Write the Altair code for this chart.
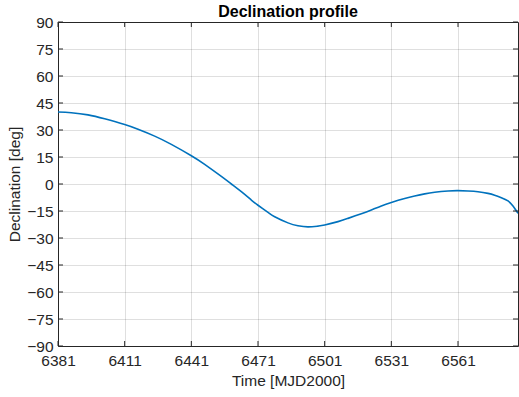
import altair as alt
import pandas as pd

# Declination of the target over time (MJD2000 days vs degrees)
time_mjd = [6381, 6387, 6394.5, 6402, 6411, 6417, 6424.5, 6432, 6441, 6447,
            6454.5, 6459, 6463.5, 6468, 6471, 6475.5, 6478.5, 6484.5, 6489, 6493.5,
            6498, 6501, 6507, 6511.5, 6517.5, 6522, 6526.5, 6531, 6537, 6541.5,
            6546, 6550.5, 6556.5, 6561, 6565.5, 6570, 6574.5, 6577.5, 6580.5, 6583.5,
            6585.75, 6588]
declination = [40.0, 39.6, 38.4, 36.2, 33.0, 30.4, 26.6, 22.0, 15.7, 10.9,
               4.2, 0.0, -4.3, -8.9, -11.8, -15.8, -18.2, -21.6, -23.2, -23.8,
               -23.4, -22.8, -20.9, -19.1, -16.5, -14.4, -12.2, -10.3, -8.1, -6.7,
               -5.5, -4.6, -3.9, -3.7, -3.9, -4.3, -5.2, -6.2, -7.6, -9.4,
               -12.2, -16.3]

x_ticks = [6381, 6411, 6441, 6471, 6501, 6531, 6561]
y_ticks = [-90, -75, -60, -45, -30, -15, 0, 15, 30, 45, 60, 75, 90]

W, H = 460, 324
FONT = "Liberation Sans"
INK = "#262626"
FS = 15.5

df = pd.DataFrame({"t": time_mjd, "dec": declination})
xt = pd.DataFrame({"t": x_ticks})
yt = pd.DataFrame({"dec": y_ticks})

x_scale = alt.Scale(domain=[6381, 6588], nice=False, zero=False)
y_scale = alt.Scale(domain=[-90, 90], nice=False, zero=False)

common = dict(ticks=False, domain=False, grid=True, gridColor=INK, gridOpacity=0.15,
              labelFontSize=FS, titleFontSize=FS, labelFont=FONT, titleFont=FONT,
              labelColor=INK, titleColor=INK, titleFontWeight="normal",
              labelFlush=False, labelOverlap=False, format="d")

x_axis = alt.Axis(values=x_ticks, title="Time [MJD2000]", labelPadding=7,
                  titlePadding=5, **common)
y_axis = alt.Axis(values=y_ticks, title="Declination [deg]", labelPadding=5,
                  titlePadding=4, **common)

X = alt.X("t:Q", scale=x_scale, axis=x_axis)
Y = alt.Y("dec:Q", scale=y_scale, axis=y_axis)

line = alt.Chart(df).mark_line(color="#0072BD", strokeWidth=1.6,
                               interpolate="natural", clip=True).encode(x=X, y=Y)

# Inward tick marks on all four sides of the box
tick_style = dict(color=INK, strokeWidth=1)
xb = alt.Chart(xt).mark_rule(**tick_style).encode(
    x=X, y=alt.value(H), y2=alt.value(H - 5))
xtop = alt.Chart(xt).mark_rule(**tick_style).encode(
    x=X, y=alt.value(0), y2=alt.value(5))
yl = alt.Chart(yt).mark_rule(**tick_style).encode(
    y=Y, x=alt.value(0), x2=alt.value(5))
yr = alt.Chart(yt).mark_rule(**tick_style).encode(
    y=Y, x=alt.value(W), x2=alt.value(W - 5))

chart = alt.layer(line, xb, xtop, yl, yr).properties(
    width=W, height=H,
    title=alt.Title("Declination profile", font=FONT, fontSize=16, fontWeight="bold",
                    color="#000000", anchor="middle", frame="group", offset=-5),
    autosize=alt.AutoSizeParams(type="none"),
    padding={"left": 58, "top": 22, "right": 1, "bottom": 51},
    background="white",
).configure_view(stroke=INK, strokeWidth=1)

chart.save("out.html", embed_options={"renderer": "svg", "actions": False})
